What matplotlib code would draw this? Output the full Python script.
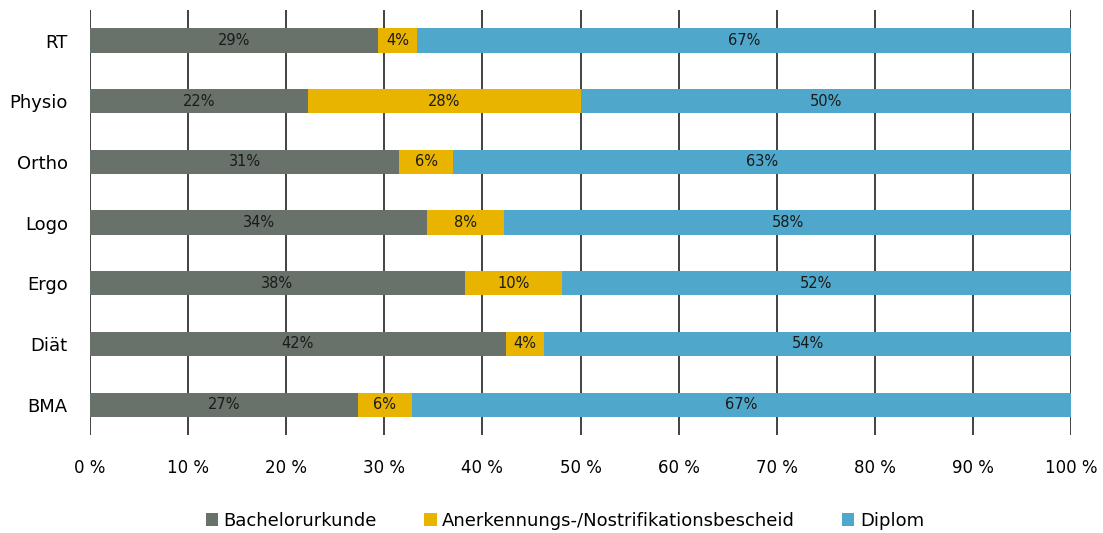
import matplotlib
matplotlib.use("Agg")
import matplotlib.pyplot as plt
import numpy as np

categories = ["RT", "Physio", "Ortho", "Logo", "Ergo", "Diät", "BMA"]
bachelor = [29.4, 22.2, 31.5, 34.4, 38.2, 42.4, 27.3]
anerkennung = [3.9, 27.8, 5.5, 7.8, 9.9, 3.9, 5.5]
diplom = [66.7, 50.0, 63.0, 57.8, 51.9, 53.7, 67.2]
bachelor_labels = ["29%", "22%", "31%", "34%", "38%", "42%", "27%"]
anerkennung_labels = ["4%", "28%", "6%", "8%", "10%", "4%", "6%"]
diplom_labels = ["67%", "50%", "63%", "58%", "52%", "54%", "67%"]
series_names = ["Bachelorurkunde", "Anerkennungs-/Nostrifikationsbescheid", "Diplom"]
xticks = [0, 10, 20, 30, 40, 50, 60, 70, 80, 90, 100]
xtick_labels = [f"{v} %" for v in xticks]

colors = ["#68726a", "#e8b400", "#4fa8cb"]

plt.rcParams['font.family'] = ['DejaVu Sans']
fig = plt.figure(figsize=(11.03, 5.33), dpi=100)
ax = fig.add_axes([0.0816, 0.1839, 0.8894, 0.797])

y = np.arange(len(categories))
left = np.zeros(len(categories))
all_vals = [bachelor, anerkennung, diplom]
all_labels = [bachelor_labels, anerkennung_labels, diplom_labels]
for vals, labs, col, name in zip(all_vals, all_labels, colors, series_names):
    vals = np.array(vals)
    ax.barh(y, vals, left=left, height=0.4, color=col, label=name, zorder=3)
    for yi, l, v, t in zip(y, left, vals, labs):
        ax.text(l + v / 2, yi, t, ha="center", va="center", fontsize=10.5, color="#1a1a1a", zorder=4)
    left = left + vals

ax.set_xlim(0, 100)
ax.set_ylim(len(categories) - 0.5, -0.5)
ax.set_yticks(y)
ax.set_yticklabels(categories, fontsize=13)
ax.set_xticks(xticks)
ax.set_xticklabels(xtick_labels, fontsize=12)
ax.tick_params(axis="both", length=0)
ax.tick_params(axis="x", pad=17)
ax.tick_params(axis="y", pad=16)
for s in ax.spines.values():
    s.set_visible(False)
ax.grid(axis="x", color="#333333", linewidth=1.3, zorder=0)
ax.grid(axis="y", visible=False)

handles, labels = ax.get_legend_handles_labels()
leg = fig.legend(handles, labels, loc="center", bbox_to_anchor=(0.512, 0.0225), ncol=3,
                 frameon=False, fontsize=13, handlelength=0.7, handleheight=0.7,
                 handletextpad=0.3, columnspacing=2.6)

fig.savefig("out.png", dpi=100)
